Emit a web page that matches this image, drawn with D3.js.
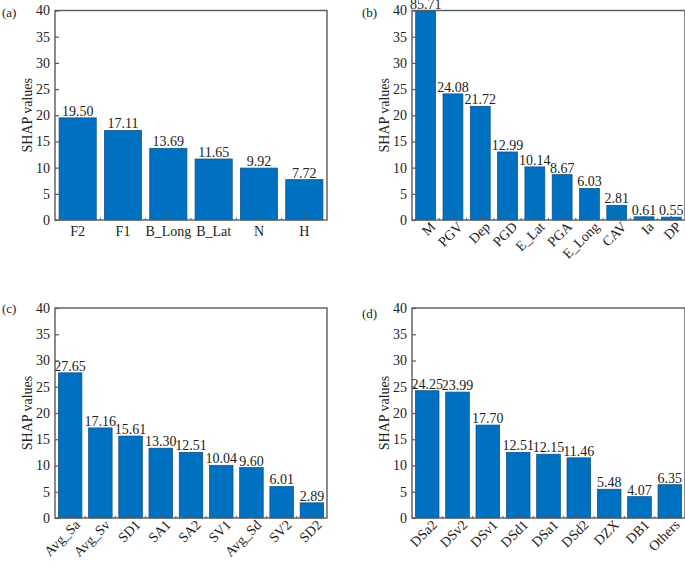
<!DOCTYPE html>
<html>
<head>
<meta charset="utf-8">
<script src="https://cdn.jsdelivr.net/npm/d3@7"></script>
<style>
  body { margin: 0; background: #fff; }
  svg { display: block; }
  text { font-family: "Liberation Serif", "Times New Roman", serif; fill: #222; }
</style>
</head>
<body>
<script>
// feature names and SHAP values per panel
var catsA = ["F2", "F1", "B_Long", "B_Lat", "N", "H"];
var valsA = [19.50, 17.11, 13.69, 11.65, 9.92, 7.72];

var catsB = ["M", "PGV", "Dep", "PGD", "E_Lat", "PGA", "E_Long", "CAV", "Ia", "DP"];
var valsB = [85.71, 24.08, 21.72, 12.99, 10.14, 8.67, 6.03, 2.81, 0.61, 0.55];

var catsC = ["Avg_Sa", "Avg_Sv", "SD1", "SA1", "SA2", "SV1", "Avg_Sd", "SV2", "SD2"];
var valsC = [27.65, 17.16, 15.61, 13.30, 12.51, 10.04, 9.60, 6.01, 2.89];

var catsD = ["DSa2", "DSv2", "DSv1", "DSd1", "DSa1", "DSd2", "DZX", "DB1", "Others"];
var valsD = [24.25, 23.99, 17.70, 12.51, 12.15, 11.46, 5.48, 4.07, 6.35];

var yTicks = [0, 5, 10, 15, 20, 25, 30, 35, 40];
var yMax = 40;

var W = 685, H = 567;
var axisCol = "#5a5a5a";
var barCol = "#0070c0";

var svg = d3.select("body").append("svg")
    .attr("width", W).attr("height", H);

// panel boxes: left, right, top, bottom (pixel)
var panels = [
  {tag: "(a)", cats: catsA, vals: valsA, x0: 55, x1: 327, y0: 10.5, y1: 220, pad: 0.18, rot: false, tx: 2, ty: 17},
  {tag: "(b)", cats: catsB, vals: valsB, x0: 412, x1: 685, y0: 10.5, y1: 220, pad: 0.27, rot: true, tx: 362, ty: 17},
  {tag: "(c)", cats: catsC, vals: valsC, x0: 55, x1: 327, y0: 308, y1: 518, pad: 0.22, rot: true, tx: 2, ty: 313},
  {tag: "(d)", cats: catsD, vals: valsD, x0: 412, x1: 685, y0: 308, y1: 518, pad: 0.22, rot: true, tx: 362, ty: 318}
];

panels.forEach(function(p) {
  var g = svg.append("g");

  var x = d3.scaleBand()
      .domain(p.cats)
      .range([p.x0, p.x1])
      .paddingInner(p.pad)
      .paddingOuter(p.pad / 2);

  var y = d3.scaleLinear()
      .domain([0, yMax])
      .range([p.y1, p.y0]);

  // bars (clipped at 40)
  g.selectAll("rect.bar")
      .data(p.vals)
      .enter()
      .append("rect")
      .attr("class", "bar")
      .attr("x", function(d, i) { return x(p.cats[i]); })
      .attr("width", x.bandwidth())
      .attr("y", function(d) { return y(Math.min(d, yMax)); })
      .attr("height", function(d) { return p.y1 - y(Math.min(d, yMax)); })
      .attr("fill", barCol)
      .attr("stroke", "#0d4f86")
      .attr("stroke-width", 0.7);

  // value labels
  g.selectAll("text.val")
      .data(p.vals)
      .enter()
      .append("text")
      .attr("class", "val")
      .attr("x", function(d, i) { return x(p.cats[i]) + x.bandwidth() / 2; })
      .attr("y", function(d) { return y(Math.min(d, yMax)) - 2; })
      .attr("text-anchor", "middle")
      .attr("font-size", 14)
      .text(function(d) { return d.toFixed(2); });

  // frame
  g.append("rect")
      .attr("x", p.x0).attr("y", p.y0)
      .attr("width", p.x1 - p.x0).attr("height", p.y1 - p.y0)
      .attr("fill", "none")
      .attr("stroke", axisCol)
      .attr("stroke-width", 1.4);

  // y axis, ticks inward
  var yAxis = d3.axisLeft(y)
      .tickValues(yTicks)
      .tickSizeInner(-4)
      .tickSizeOuter(0)
      .tickPadding(5);
  var ya = g.append("g")
      .attr("transform", "translate(" + p.x0 + ",0)")
      .call(yAxis);
  ya.select(".domain").remove();
  ya.selectAll("line").attr("stroke", axisCol).attr("stroke-width", 1.2);
  ya.selectAll("text").attr("font-size", 14).attr("font-family", "Liberation Serif").attr("fill", "#222");

  // x axis, ticks inward at bar centres
  var xAxis = d3.axisBottom(x)
      .tickSizeInner(-4)
      .tickSizeOuter(0)
      .tickPadding(6);
  var xa = g.append("g")
      .attr("transform", "translate(0," + p.y1 + ")")
      .call(xAxis);
  xa.select(".domain").remove();
  xa.selectAll("line").attr("stroke", axisCol).attr("stroke-width", 1.2);
  var xt = xa.selectAll("text")
      .attr("font-size", 14)
      .attr("font-family", "Liberation Serif")
      .attr("fill", "#222");
  if (p.rot) {
    xt.attr("text-anchor", "end")
      .attr("dy", "0.35em")
      .attr("transform", "translate(3,0) rotate(-45)");
  }

  // small ticks at category boundaries
  var bounds = p.cats.slice(1).map(function(c) {
    return x(c) - x.step() * x.paddingInner() / 2;
  });
  g.selectAll("line.minor")
      .data(bounds)
      .enter()
      .append("line")
      .attr("x1", function(d) { return d; })
      .attr("x2", function(d) { return d; })
      .attr("y1", p.y1)
      .attr("y2", p.y1 - 2)
      .attr("stroke", axisCol)
      .attr("stroke-width", 1);

  // y label
  g.append("text")
      .attr("transform", "translate(" + (p.x0 - 23) + "," + ((p.y0 + p.y1) / 2) + ") rotate(-90)")
      .attr("text-anchor", "middle")
      .attr("font-size", 14)
      .text("SHAP values");

  // panel tag
  g.append("text")
      .attr("x", p.tx).attr("y", p.ty)
      .attr("font-size", 13)
      .text(p.tag);
});
</script>
</body>
</html>
